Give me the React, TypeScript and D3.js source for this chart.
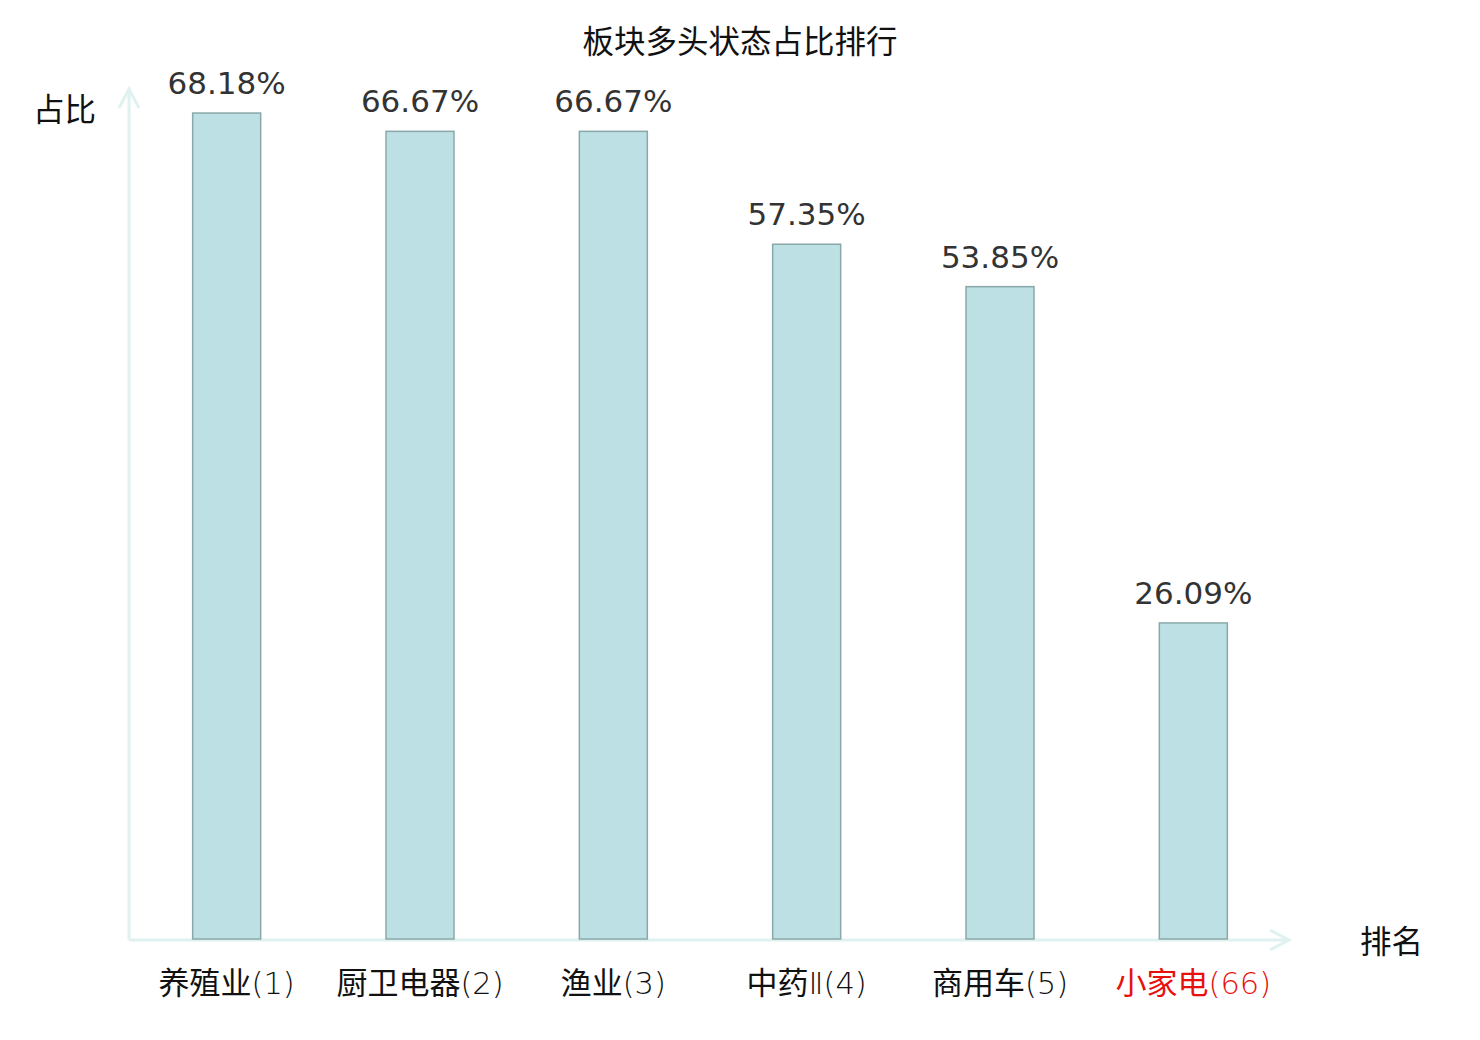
import React, { useEffect, useRef } from "react";
import * as d3 from "d3";

const categories = ["养殖业(1)", "厨卫电器(2)", "渔业(3)", "中药Ⅱ(4)", "商用车(5)", "小家电(66)"];
const shares = [68.18, 66.67, 66.67, 57.35, 53.85, 26.09];
const highlighted = ["小家电(66)"];

const width = 1464;
const height = 1024;
const axisColor = "#dff2ef";
const cjk = "'Noto Sans CJK SC', sans-serif";

export default function App() {
  const ref = useRef<SVGSVGElement | null>(null);

  useEffect(() => {
    const svg = d3.select(ref.current);
    svg.selectAll("*").remove();

    const x = d3.scaleBand<string>().domain(categories).range([122, 1282]).padding(0);
    const y = d3.scaleLinear().domain([0, 70]).range([931, 83]);
    const barW = 68;
    const x0 = 121;
    const y0 = y(0);

    // title
    svg
      .append("text")
      .attr("x", 732)
      .attr("y", 45)
      .attr("text-anchor", "middle")
      .attr("font-family", cjk)
      .attr("font-size", 31.5)
      .attr("fill", "#111")
      .text("板块多头状态占比排行");

    // axes with arrow heads
    const axes = svg.append("g").attr("stroke", axisColor).attr("stroke-width", 3).attr("fill", "none");
    axes.append("line").attr("x1", x0).attr("x2", x0).attr("y1", y0 + 1).attr("y2", 81);
    axes.append("path").attr("d", `M${x0 - 10},${100} L${x0},${81} L${x0 + 10},${100}`);
    axes.append("line").attr("x1", x0).attr("x2", 1281).attr("y1", y0 + 1).attr("y2", y0 + 1);
    axes.append("path").attr("d", `M${1262},${y0 - 9} L${1281},${y0 + 1} L${1262},${y0 + 11}`);

    // bars
    svg
      .append("g")
      .selectAll("rect")
      .data(shares)
      .join("rect")
      .attr("x", (_d, i) => x(categories[i])! + x.bandwidth() / 2 - barW / 2)
      .attr("y", (d) => y(d))
      .attr("width", barW)
      .attr("height", (d) => y0 - y(d))
      .attr("fill", "#bce0e3")
      .attr("stroke", "#8aa8a9")
      .attr("stroke-width", 1.5);

    // value labels
    svg
      .append("g")
      .selectAll("text")
      .data(shares)
      .join("text")
      .attr("x", (_d, i) => x(categories[i])! + x.bandwidth() / 2)
      .attr("y", (d) => y(d) - 19)
      .attr("text-anchor", "middle")
      .attr("font-family", "'DejaVu Sans', sans-serif")
      .attr("font-size", 31)
      .attr("fill", "#333")
      .text((d) => `${d.toFixed(2)}%`);

    // category labels: name + thin rank part
    const labels = svg
      .append("g")
      .selectAll("text")
      .data(categories)
      .join("text")
      .attr("x", (d) => x(d)! + x.bandwidth() / 2)
      .attr("y", 986)
      .attr("text-anchor", "middle")
      .attr("font-family", cjk)
      .attr("font-size", 31)
      .attr("fill", (d) => (highlighted.includes(d) ? "#e8100c" : "#111"));
    labels
      .append("tspan")
      .text((d) => d.replace(/Ⅱ?\(.*\)$/, ""));
    labels
      .append("tspan")
      .attr("font-family", "'DejaVu Sans', sans-serif")
      .attr("font-weight", 200)
      .attr("font-size", 30.5)
      .text((d) => (d.match(/Ⅱ?\(.*\)$/) || [""])[0]);

    // axis names
    svg
      .append("text")
      .attr("x", 25)
      .attr("y", 113)
      .attr("font-family", cjk)
      .attr("font-size", 31.5)
      .attr("fill", "#111")
      .text("占比");
    svg
      .append("text")
      .attr("x", 1352)
      .attr("y", 945)
      .attr("font-family", cjk)
      .attr("font-size", 31.5)
      .attr("fill", "#111")
      .text("排名");
  }, []);

  return <svg ref={ref} width={width} height={height} style={{ display: "block", background: "#fff" }} />;
}
